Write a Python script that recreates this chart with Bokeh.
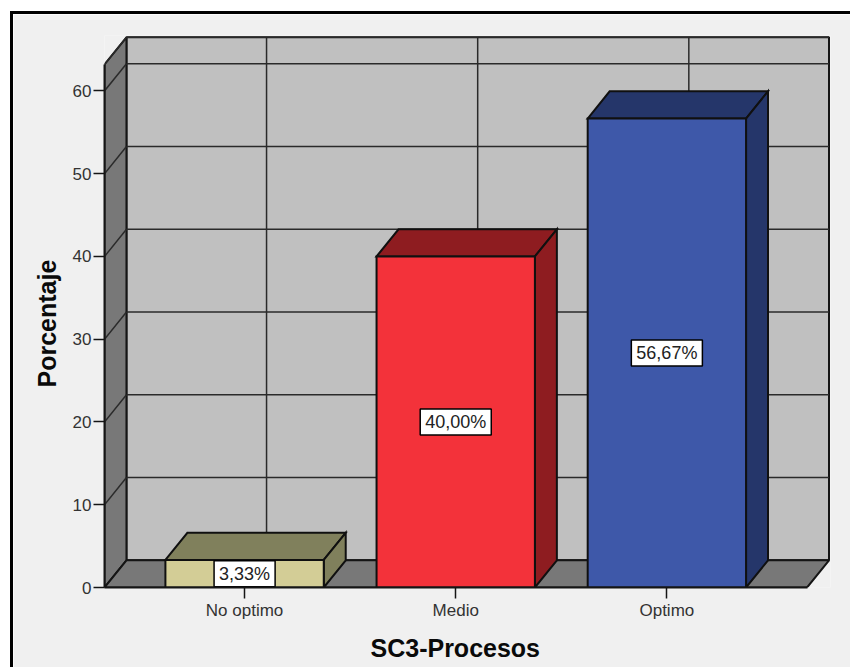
from bokeh.plotting import figure
from bokeh.embed import file_html
from bokeh.resources import INLINE
from bokeh.models import FixedTicker, Range1d, Title
from bokeh.core.properties import value

categories = ["No optimo", "Medio", "Optimo"]
percent = [3.33, 40.00, 56.67]
bar_labels = ["3,33%", "40,00%", "56,67%"]
front_colors = ["#d3cd96", "#f3323a", "#3e58a9"]
side_colors = ["#80805c", "#8e1c20", "#25366a"]
y_ticks = [0, 10, 20, 30, 40, 50, 60]
x_ticks = [1, 2, 3]
x_title = "SC3-Procesos"
y_title = "Porcentaje"

BAR_W = 0.75
DX = 0.104
DY = 3.28
X0 = 0.3365
X1 = 3.664
Y_TOP = 63.2

p = figure(width=840, height=656, output_backend="svg", toolbar_location=None,
           x_range=Range1d(X0, 3.775), y_range=Range1d(0, 66.7),
           min_border_left=91, min_border_right=23, min_border_top=21, min_border_bottom=77,
           background_fill_color="#f0f0f0", border_fill_color="#f0f0f0")
p.styles = {"margin-left": "10px", "margin-top": "11px",
            "border-left": "3px solid #000", "border-top": "3px solid #000"}
p.outline_line_color = None
p.grid.visible = False

# back wall, left wall, floor
line = dict(line_color="#151515", line_width=2)
p.patch([X0 + DX, X1 + DX, X1 + DX, X0 + DX], [DY, DY, Y_TOP + DY, Y_TOP + DY],
        fill_color="#c0c0c0", **line)
p.patch([X0, X0 + DX, X0 + DX, X0], [0, DY, Y_TOP + DY, Y_TOP],
        fill_color="#787878", **line)
p.patch([X0, X1, X1 + DX, X0 + DX], [0, 0, DY, DY],
        fill_color="#787878", **line)

# gridlines on the walls
grid = dict(line_color="#2a2a2a", line_width=1.5)
tk = y_ticks[1:]
p.multi_line([[X0 + DX, X1 + DX] for t in tk], [[t + DY, t + DY] for t in tk], **grid)
p.multi_line([[X0, X0 + DX] for t in tk], [[t, t + DY] for t in tk], **grid)
p.multi_line([[X0 + DX, X1 + DX]], [[Y_TOP + DY, Y_TOP + DY]], **grid)
p.multi_line([[X0, X0 + DX]], [[Y_TOP, Y_TOP + DY]], **grid)
p.multi_line([[x + DX, x + DX] for x in x_ticks], [[DY, Y_TOP + DY] for x in x_ticks], **grid)

# bars
edge = dict(line_color="#101010", line_width=2, line_join="miter")
for x, v, fc, sc in zip(x_ticks, percent, front_colors, side_colors):
    l, r = x - BAR_W / 2, x + BAR_W / 2
    p.patch([l, l + DX, r + DX, r], [v, v + DY, v + DY, v], fill_color=sc, **edge)
    p.patch([r, r + DX, r + DX, r], [0, DY, v + DY, v], fill_color=sc, **edge)
    p.patch([l, r, r, l], [0, 0, v, v], fill_color=fc, **edge)

p.text(x=x_ticks, y=[v / 2 for v in percent], text=bar_labels,
       text_font=value("Liberation Sans"), text_font_size="18px", text_color="#222222",
       text_align="center", text_baseline="middle",
       background_fill_color="#ffffff", border_line_color="#000000", border_line_width=1.5,
       padding=(5, 3))

# axes
ya, xa = p.yaxis[0], p.xaxis[0]
ya.ticker = FixedTicker(ticks=y_ticks)
xa.ticker = FixedTicker(ticks=x_ticks)
ya.bounds = (0, Y_TOP)
xa.bounds = (X0, X1)
xa.major_label_overrides = dict(zip(x_ticks, categories))
for ax in (xa, ya):
    ax.axis_line_color = "#151515"
    ax.axis_line_width = 2
    ax.major_tick_line_color = "#151515"
    ax.major_tick_line_width = 1.5
    ax.major_tick_out = 11
    ax.major_tick_in = 0
    ax.minor_tick_line_color = None
    ax.major_label_text_font = "Liberation Sans"
    ax.major_label_text_font_size = "17px"
    ax.major_label_text_color = "#333333"
ya.major_label_standoff = 2
xa.major_label_standoff = 2

title_style = dict(text_font="Liberation Sans", text_font_size="25px",
                   text_font_style="bold", text_color="#0a0a0a", align="left")
p.add_layout(Title(text=x_title, offset=266, standoff=18, **title_style), "below")
p.add_layout(Title(text=y_title, offset=200, standoff=18, **title_style), "left")

open("out.html", "w").write(file_html(p, INLINE))
